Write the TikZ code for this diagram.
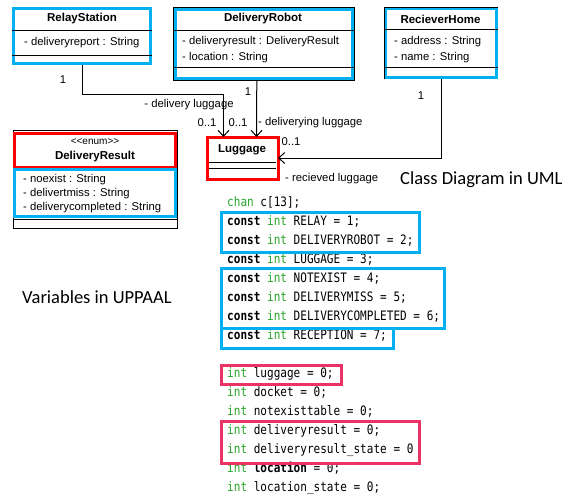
\documentclass[tikz,border=0pt]{standalone}
\usepackage{fontspec}
\setmainfont{Liberation Sans}
\newfontfamily\codefont[FakeStretch=0.85]{DejaVu Sans Mono}
\newfontfamily\captionfont{Carlito}
\usetikzlibrary{arrows.meta}

\definecolor{umlcyan}{RGB}{0,176,240}
\definecolor{umlred}{RGB}{255,0,0}
\definecolor{hlpink}{RGB}{235,50,100}
\definecolor{kwgreen}{RGB}{40,165,40}

\newcommand{\kwconst}{\textbf{const}}
\newcommand{\tyint}{\textcolor{kwgreen}{int}}
\newcommand{\tychan}{\textcolor{kwgreen}{chan}}

\tikzset{
  classbox/.style={draw=black, line width=1pt, anchor=north west, inner sep=0pt},
  cyanframe/.style={draw=umlcyan, line width=2.6pt},
  redframe/.style={draw=umlred, line width=3pt},
  divider/.style={draw=black, line width=1pt},
  classname/.style={font=\fontsize{11.5}{13}\selectfont\bfseries, inner sep=0pt},
  attr/.style={font=\fontsize{11.3}{13}\selectfont, anchor=west, inner sep=0pt},
  lbl/.style={font=\fontsize{11.3}{13}\selectfont, inner sep=0pt},
  assoc/.style={draw=black, line width=1pt, -{Straight Barb[length=6pt,width=11pt]}},
  plain/.style={draw=black, line width=1pt},
  code/.style={font=\codefont\fontsize{13}{15}\selectfont, anchor=base west, inner sep=0pt},
  caption/.style={font=\captionfont\fontsize{18.5}{21}\selectfont, anchor=west, inner sep=0pt},
  hlblue/.style={draw=umlcyan, line width=3pt, anchor=north west, inner sep=0pt},
  hlred/.style={draw=hlpink, line width=3pt, anchor=north west, inner sep=0pt},
}

\begin{document}
\begin{tikzpicture}[x=1pt, y=-1pt]
\useasboundingbox[fill=white] (0,0) rectangle (571,498);

% ---------- class RelayStation ----------
\node[classbox, minimum width=139pt, minimum height=57pt] (relay) at (12,7) {};
\draw[cyanframe] ([shift={(1.3,1.3)}]relay.north west) rectangle ([shift={(-1.3,-1.3)}]relay.south east);
\draw[divider] (relay.west |- 0,30) -- (relay.east |- 0,30);
\draw[divider] (relay.west |- 0,55) -- (relay.east |- 0,55);
\node[classname] (relayname) at (82,19) {RelayStation};
\node[attr] (relayattr) at (24,43) {- deliveryreport : String};

% ---------- class DeliveryRobot ----------
\node[classbox, line width=1.6pt, minimum width=180pt, minimum height=72pt] (robot) at (173,7) {};
\draw[cyanframe] ([shift={(2.2,2.2)}]robot.north west) rectangle ([shift={(-2.2,-2.2)}]robot.south east);
\draw[divider] (robot.west |- 0,30) -- (robot.east |- 0,30);
\draw[divider] (robot.west |- 0,67) -- (robot.east |- 0,67);
\node[classname] (robotname) at (263,19) {DeliveryRobot};
\node[attr] (robotattr1) at (182,42) {- deliveryresult : DeliveryResult};
\node[attr] (robotattr2) at (182,58) {- location : String};

% ---------- class RecieverHome ----------
\node[classbox, line width=1.4pt, minimum width=113pt, minimum height=71pt] (home) at (384,7) {};
\draw[cyanframe] ([shift={(1.8,1.8)}]home.north west) rectangle ([shift={(-1.8,-1.8)}]home.south east);
\draw[divider] (home.west |- 0,29) -- (home.east |- 0,29);
\draw[divider] (home.west |- 0,67) -- (home.east |- 0,67);
\node[classname] (homename) at (440.5,19) {RecieverHome};
\node[attr] (homeattr1) at (394,42) {- address : String};
\node[attr] (homeattr2) at (394,58) {- name : String};

% ---------- enumeration DeliveryResult ----------
\node[classbox, minimum width=164pt, minimum height=98pt] (result) at (13,130) {};
\draw[redframe] (14.5,133.5) rectangle (175.5,167.5);
\draw[cyanframe] (14.3,169.5) rectangle (175.7,216.5);
\draw[divider] (result.west |- 0,219.5) -- (result.east |- 0,219.5);
\node[lbl, font=\fontsize{10}{12}\selectfont] (resultstereo) at (95,142) {<\kern0pt<enum>\kern0pt>};
\node[classname] (resultname) at (95,157) {DeliveryResult};
\node[attr] (resultattr1) at (23,180) {- noexist : String};
\node[attr] (resultattr2) at (23,194) {- delivertmiss : String};
\node[attr] (resultattr3) at (23,208) {- deliverycompleted : String};

% ---------- class Luggage ----------
\node[classbox, minimum width=70pt, minimum height=41pt] (luggage) at (207,137) {};
\draw[redframe] (luggage.north west) rectangle (luggage.south east);
\draw[divider] ([xshift=2pt]luggage.west |- 0,162) -- ([xshift=-2pt]luggage.east |- 0,162);
\draw[divider] ([xshift=2pt]luggage.west |- 0,168) -- ([xshift=-2pt]luggage.east |- 0,168);
\node[classname] (luggagename) at (242,150) {Luggage};

% ---------- associations ----------
\draw[assoc] (relay.south) -- ++(0,29) -| ([xshift=-19pt]luggage.north);
\draw[assoc] ([xshift=-7pt]robot.south) -- ([xshift=14pt]luggage.north);
\draw[assoc] (home.south) |- (luggage.east);

\node[lbl] (m1) at (63,80) {1};
\node[lbl] (m2) at (248,92) {1};
\node[lbl] (m3) at (421,96) {1};
\node[lbl] (role1) at (189,105) {- delivery luggage};
\node[lbl] (m4) at (207,123) {0..1};
\node[lbl] (m5) at (238,123) {0..1};
\node[lbl, anchor=west] (role2) at (258,123) {- deliverying luggage};
\node[lbl] (m6) at (291,142) {0..1};
\node[lbl, anchor=west] (role3) at (285,179) {- recieved luggage};

% ---------- captions ----------
\node[caption] (umlcap) at (400,180) {Class Diagram in UML};
\node[caption] (varcap) at (22,297) {Variables in UPPAAL};

% ---------- UPPAAL declarations ----------
\node[code] (d0) at (227,206.5) {\tychan{} c[13];};
\node[code] (d1) at (227,225.5) {\kwconst{} \tyint{} RELAY = 1;};
\node[code] (d2) at (227,244.5) {\kwconst{} \tyint{} DELIVERYROBOT = 2;};
\node[code] (d3) at (227,263.5) {\kwconst{} \tyint{} LUGGAGE = 3;};
\node[code] (d4) at (227,282.5) {\kwconst{} \tyint{} NOTEXIST = 4;};
\node[code] (d5) at (227,301.5) {\kwconst{} \tyint{} DELIVERYMISS = 5;};
\node[code] (d6) at (227,320.5) {\kwconst{} \tyint{} DELIVERYCOMPLETED = 6;};
\node[code] (d7) at (227,339.5) {\kwconst{} \tyint{} RECEPTION = 7;};

\node[code] (v1) at (227,377.5) {\tyint{} luggage = 0;};
\node[code] (v2) at (227,396.5) {\tyint{} docket = 0;};
\node[code] (v3) at (227,415.5) {\tyint{} notexisttable = 0;};
\node[code] (v4) at (227,434.5) {\tyint{} deliveryresult = 0;};
\node[code] (v5) at (227,453.5) {\tyint{} deliveryresult\_state = 0};
\node[code] (v6) at (227,472.5) {\tyint{} \textbf{location} = 0;};
\node[code] (v7) at (227,491.5) {\tyint{} location\_state = 0;};

% highlight frames
\node[hlblue, minimum width=198pt, minimum height=40pt] (hlconst1) at (220,211) {};
\node[hlblue, minimum width=223pt, minimum height=60pt] (hlconst2) at (220,267) {};
\node[hlblue, minimum width=172pt, minimum height=20pt] (hlconst3) at (220,327) {};
\node[hlred, minimum width=120pt, minimum height=19pt] (hlvar1) at (220,364) {};
\node[hlred, minimum width=198pt, minimum height=42pt] (hlvar2) at (220,420) {};
\end{tikzpicture}
\end{document}
